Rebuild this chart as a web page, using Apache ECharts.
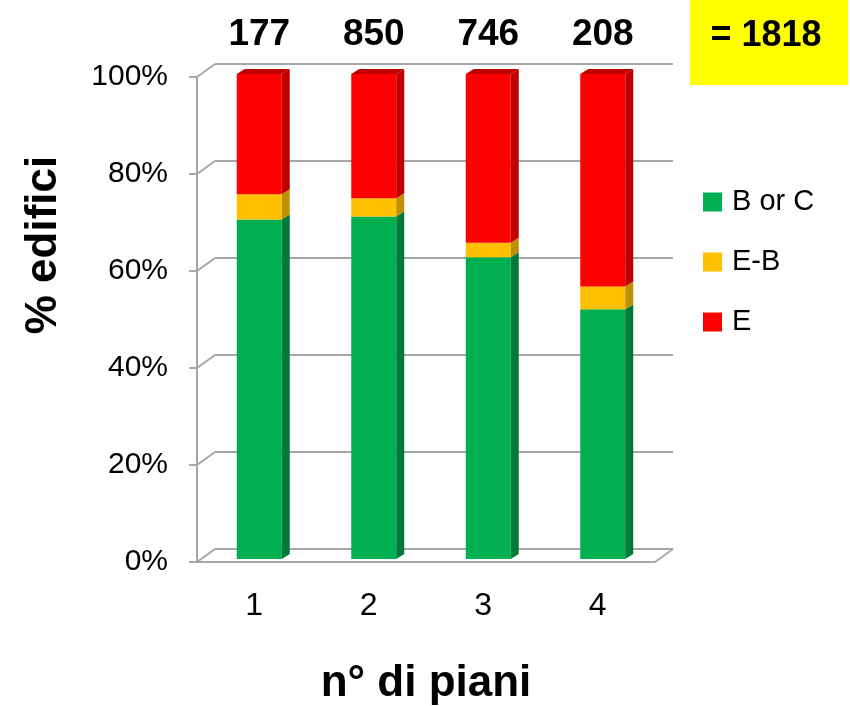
<!DOCTYPE html>
<html>
<head>
<meta charset="utf-8">
<script src="https://cdn.jsdelivr.net/npm/echarts@6/dist/echarts.min.js"></script>
<style>
  html, body { margin: 0; padding: 0; background: #fff; }
  #chart { width: 850px; height: 706px; }
</style>
</head>
<body>
<div id="chart"></div>
<script>
'use strict';

// dati
var piani = ['1', '2', '3', '4'];
var conteggi = [177, 850, 746, 208];
var totale = 1818;
var serieNomi = ['B or C', 'E-B', 'E'];
var pctBC = [70.0, 70.6, 62.2, 51.5];
var pctEB = [5.2, 3.8, 3.0, 4.7];
var pctE = [24.8, 25.6, 34.8, 43.8];
var yTicks = [0, 20, 40, 60, 80, 100];

var colori = ['#00B050', '#FFC000', '#FF0000'];
var coloriLato = ['#007A3A', '#BF9000', '#C00000'];
var DX = 8, DY = -5;   // profondita' finta 3D
var FONT = '"Liberation Sans", Arial, sans-serif';

var myChart = echarts.init(document.getElementById('chart'));

// costruisco gli intervalli impilati [cat, da, a]
var valori = [pctBC, pctEB, pctE];
var stacks = valori.map(function() { return []; });
piani.forEach(function(p, i) {
    var base = 0;
    valori.forEach(function(arr, s) {
        stacks[s].push([i, base, base + arr[i]]);
        base += arr[i];
    });
});

function renderBar(s) {
    return function(params, api) {
        var cat = api.value(0);
        var p0 = api.coord([cat, api.value(1)]);
        var p1 = api.coord([cat, api.value(2)]);
        var w = api.size([1, 0])[0] * 0.393;
        var x = p0[0] - w / 2;
        var children = [
            { type: 'rect', shape: { x: x, y: p1[1], width: w, height: p0[1] - p1[1] },
              style: { fill: colori[s] } },
            { type: 'polygon', shape: { points: [[x + w, p1[1]], [x + w + DX, p1[1] + DY], [x + w + DX, p0[1] + DY], [x + w, p0[1]]] },
              style: { fill: coloriLato[s] } }
        ];
        if (s === valori.length - 1) {
            children.push({ type: 'polygon',
                shape: { points: [[x, p1[1]], [x + DX, p1[1] + DY], [x + w + DX, p1[1] + DY], [x + w, p1[1]]] },
                style: { fill: coloriLato[s] } });
            children.push({ type: 'text',
                style: { text: String(conteggi[cat]), x: p0[0], y: p1[1] - 39,
                         align: 'center', verticalAlign: 'middle',
                         font: 'bold 37px ' + FONT, fill: '#000' } });
        }
        return { type: 'group', children: children };
    };
}

var series = serieNomi.map(function(nome, s) {
    return {
        name: nome,
        type: 'custom',
        xAxisIndex: 2,
        yAxisIndex: 2,
        itemStyle: { color: colori[s] },
        renderItem: renderBar(s),
        encode: { x: 0, y: [1, 2] },
        data: stacks[s],
        z: 5
    };
});

// diagonali tra assi frontali e piano di fondo
series.push({
    type: 'custom',
    xAxisIndex: 0,
    yAxisIndex: 0,
    silent: true,
    renderItem: function(params, api) {
        var v = api.value(1);
        var band = api.size([1, 0])[0];
        var pl = api.coord([0, v]);
        var xl = pl[0] - band / 2;
        var lines = [{ type: 'line', shape: { x1: xl, y1: pl[1], x2: xl + 18, y2: pl[1] - 13 },
                       style: { stroke: '#A6A6A6', lineWidth: 2 } }];
        if (v === 0) {
            var pr = api.coord([piani.length - 1, v]);
            var xr = pr[0] + band / 2;
            lines.push({ type: 'line', shape: { x1: xr, y1: pr[1], x2: xr + 18, y2: pr[1] - 13 },
                         style: { stroke: '#A6A6A6', lineWidth: 2 } });
        }
        return { type: 'group', children: lines };
    },
    encode: { x: 0, y: 1 },
    data: yTicks.map(function(v) { return [0, v]; }),
    z: 1
});

var option = {
    backgroundColor: '#fff',
    animation: false,
    textStyle: { fontFamily: FONT },
    legend: {
        data: serieNomi,
        orient: 'vertical',
        left: 703,
        top: 187,
        padding: 0,
        icon: 'rect',
        itemWidth: 19,
        itemHeight: 19,
        itemGap: 30,
        textStyle: { fontSize: 29, color: '#000', lineHeight: 30, padding: [0, 0, 0, 5] }
    },
    grid: [
        { left: 197, right: 195, top: 77, bottom: 144, outerBoundsMode: 'none' },
        { left: 215, right: 177, top: 64, bottom: 157, outerBoundsMode: 'none' },
        { left: 202, right: 190, top: 74, bottom: 147, outerBoundsMode: 'none' }
    ],
    xAxis: [
        { type: 'category', gridIndex: 0, data: piani,
          axisLine: { lineStyle: { color: '#A6A6A6', width: 2 } },
          axisTick: { length: 9, lineStyle: { color: '#A6A6A6', width: 2 } },
          axisLabel: { fontSize: 32, color: '#000', margin: 28 },
          name: 'n° di piani', nameLocation: 'middle', nameGap: 100,
          nameTextStyle: { fontSize: 44, fontWeight: 'bold', color: '#000' } },
        { type: 'category', gridIndex: 1, data: piani, show: false },
        { type: 'category', gridIndex: 2, data: piani, show: false }
    ],
    yAxis: [
        { type: 'value', gridIndex: 0, min: 0, max: 100, interval: 20,
          axisLine: { show: true, lineStyle: { color: '#A6A6A6', width: 2 } },
          axisTick: { show: true, length: 8, lineStyle: { color: '#A6A6A6', width: 2 } },
          axisLabel: { formatter: '{value}%', fontSize: 30, color: '#000', margin: 29 },
          splitLine: { show: false } },
        { type: 'value', gridIndex: 1, min: 0, max: 100, interval: 20,
          axisLine: { show: false }, axisTick: { show: false }, axisLabel: { show: false },
          splitLine: { show: true, lineStyle: { color: '#A6A6A6', width: 2 } } },
        { type: 'value', gridIndex: 2, min: 0, max: 100, interval: 20, show: false,
          splitLine: { show: false } }
    ],
    graphic: [
        { type: 'text', x: 44, y: 245, rotation: Math.PI / 2,
          style: { text: '% edifici', font: 'bold 44px ' + FONT, fill: '#000',
                   align: 'center', verticalAlign: 'middle' } },
        { type: 'rect', shape: { x: 690, y: 0, width: 158, height: 85 },
          style: { fill: '#FFFF00' } },
        { type: 'text', x: 766, y: 36,
          style: { text: '= ' + totale, font: 'bold 36px ' + FONT, fill: '#000',
                   align: 'center', verticalAlign: 'middle' } }
    ],
    series: series
};

myChart.setOption(option);
</script>
</body>
</html>
